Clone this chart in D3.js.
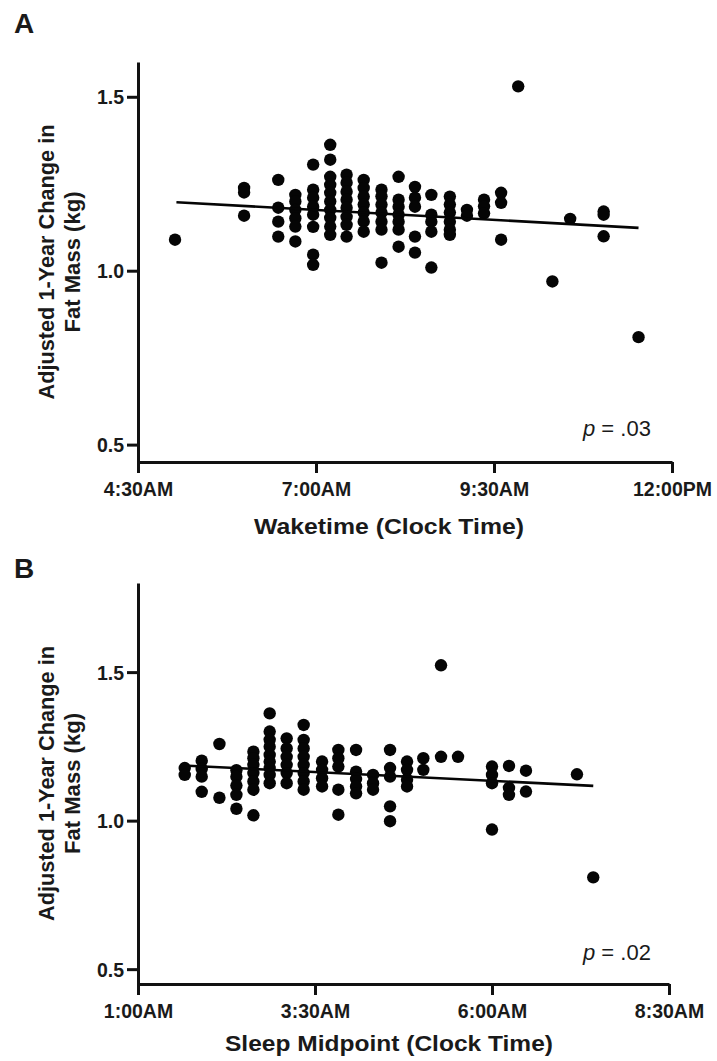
<!DOCTYPE html>
<html>
<head>
<meta charset="utf-8">
<script src="https://cdn.jsdelivr.net/npm/d3@7"></script>
<style>
  html, body { margin: 0; padding: 0; background: #fff; }
  svg { display: block; }
  text { font-family: "Liberation Sans", Arial, sans-serif; fill: #1a1a1a; }
</style>
</head>
<body>
<svg id="chart" width="717" height="1061"></svg>
<script>
// ---------- DATA ----------
// Panel A: Waketime (decimal clock hours) and adjusted 1-year change in fat mass (kg)
const wakeTimes = [5.02, 5.99, 6.47, 6.71, 6.96, 7.20, 7.43, 7.67, 7.92, 8.16, 8.39, 8.62, 8.88, 9.12, 9.36, 9.60, 9.84, 10.32, 10.57, 11.04, 11.53];
const wakeChange = [
  [1.089],
  [1.238, 1.225, 1.158],
  [1.261, 1.181, 1.141, 1.098],
  [1.218, 1.199, 1.175, 1.151, 1.127, 1.084],
  [1.305, 1.233, 1.210, 1.184, 1.161, 1.126, 1.046, 1.017],
  [1.362, 1.319, 1.270, 1.247, 1.224, 1.199, 1.175, 1.152, 1.127, 1.103],
  [1.276, 1.253, 1.227, 1.204, 1.181, 1.155, 1.132, 1.098],
  [1.261, 1.238, 1.213, 1.190, 1.167, 1.141, 1.112],
  [1.233, 1.214, 1.190, 1.167, 1.141, 1.118, 1.023],
  [1.270, 1.204, 1.184, 1.161, 1.141, 1.118, 1.069],
  [1.241, 1.210, 1.184, 1.098, 1.052],
  [1.218, 1.161, 1.141, 1.112, 1.009],
  [1.213, 1.190, 1.167, 1.141, 1.118, 1.103],
  [1.175, 1.158],
  [1.204, 1.185, 1.165],
  [1.224, 1.195, 1.089],
  [1.530],
  [0.969],
  [1.149],
  [1.170, 1.161, 1.099],
  [0.809]
];
const wakeFitX = [5.04, 11.53];
const wakeFitY = [1.197, 1.123];
const wakeTicks = [4.5, 7, 9.5, 12];
const wakeTickLabels = ["4:30AM", "7:00AM", "9:30AM", "12:00PM"];
const wakeP = ".03";

// Panel B: Sleep midpoint (decimal clock hours)
const midTimes = [1.66, 1.90, 2.15, 2.39, 2.63, 2.86, 3.10, 3.34, 3.60, 3.83, 4.08, 4.32, 4.56, 4.80, 5.03, 5.28, 5.52, 6.00, 6.24, 6.48, 7.20, 7.43];
const midChange = [
  [1.177, 1.154],
  [1.202, 1.174, 1.148, 1.097],
  [1.258, 1.077],
  [1.170, 1.148, 1.118, 1.087, 1.040],
  [1.232, 1.210, 1.188, 1.160, 1.132, 1.104, 1.018],
  [1.361, 1.300, 1.272, 1.249, 1.221, 1.199, 1.177, 1.154, 1.126],
  [1.277, 1.243, 1.215, 1.188, 1.160, 1.126],
  [1.322, 1.272, 1.243, 1.215, 1.188, 1.160, 1.132, 1.104],
  [1.199, 1.171, 1.143, 1.115],
  [1.238, 1.210, 1.182, 1.104, 1.020],
  [1.238, 1.165, 1.140, 1.115, 1.092],
  [1.154, 1.126, 1.104],
  [1.238, 1.177, 1.148, 1.048, 0.998],
  [1.199, 1.171, 1.138, 1.115],
  [1.210, 1.171],
  [1.523, 1.215],
  [1.215],
  [1.182, 1.154, 1.126, 0.970],
  [1.184, 1.110, 1.087],
  [1.168, 1.098],
  [1.156],
  [0.809]
];
const midFitX = [1.71, 7.43];
const midFitY = [1.185, 1.117];
const midTicks = [1, 3.5, 6, 8.5];
const midTickLabels = ["1:00AM", "3:30AM", "6:00AM", "8:30AM"];
const midP = ".02";

const yTicks = [0.5, 1.0, 1.5];
const yTitle = ["Adjusted 1-Year Change in", "Fat Mass (kg)"];

// ---------- DRAW ----------
const svg = d3.select("#chart");

function panel(cfg) {
  const x = d3.scaleLinear().domain(cfg.xDomain).range([cfg.left, cfg.right]);
  const y = d3.scaleLinear().domain(cfg.yDomain).range([cfg.bottom, cfg.top]);
  const g = svg.append("g");

  // panel letter
  g.append("text").attr("x", 14).attr("y", cfg.letterY)
    .attr("font-size", 28).attr("font-weight", "bold").text(cfg.letter);

  // y axis
  const yAxis = d3.axisLeft(y).tickValues(yTicks).tickFormat(d3.format(".1f"))
    .tickSize(11).tickSizeOuter(0).tickPadding(3);
  const ya = g.append("g").attr("transform", `translate(${cfg.left},0)`).call(yAxis);
  // x axis
  const labels = cfg.tickLabels;
  const xAxis = d3.axisBottom(x).tickValues(cfg.ticks)
    .tickFormat((d, i) => labels[i]).tickSize(11).tickSizeOuter(0).tickPadding(9);
  const xa = g.append("g").attr("transform", `translate(0,${cfg.bottom})`).call(xAxis);

  [ya, xa].forEach(a => {
    a.select(".domain").attr("stroke", "#111").attr("stroke-width", 3);
    a.selectAll(".tick line").attr("stroke", "#111").attr("stroke-width", 3);
    a.selectAll(".tick text").attr("font-size", 19.5).attr("font-weight", "bold")
      .attr("fill", "#2a2a2a")
      .attr("font-family", "'Liberation Sans', Arial, sans-serif");
  });
  ya.selectAll(".tick text").attr("dy", "0.36em");

  // y title (two lines, rotated)
  const cy = (cfg.top + cfg.bottom) / 2;
  [0, 1].forEach(i => {
    g.append("text")
      .attr("transform", `translate(${54 + i * 26},${cy}) rotate(-90)`)
      .attr("text-anchor", "middle").attr("font-size", 22).attr("font-weight", "bold")
      .attr("fill", "#2a2a2a")
      .attr("textLength", i === 0 ? 275 : 141).attr("lengthAdjust", "spacingAndGlyphs")
      .text(yTitle[i]);
  });

  // x title
  g.append("text").attr("x", 389).attr("y", cfg.xTitleY)
    .attr("text-anchor", "middle").attr("font-size", 21.5).attr("font-weight", "bold")
    .attr("fill", "#2a2a2a")
    .attr("textLength", cfg.xTitleLen).attr("lengthAdjust", "spacingAndGlyphs")
    .text(cfg.xTitle);

  // points
  const pts = [];
  cfg.times.forEach((t, i) => cfg.values[i].forEach(v => pts.push({ t, v })));
  g.append("g").selectAll("circle").data(pts).join("circle")
    .attr("cx", d => x(d.t)).attr("cy", d => y(d.v)).attr("r", 6.2).attr("fill", "#050505");

  // regression line
  const fit = cfg.fitX.map((fx, i) => [fx, cfg.fitY[i]]);
  g.append("path").datum(fit)
    .attr("d", d3.line().x(d => x(d[0])).y(d => y(d[1])))
    .attr("stroke", "#050505").attr("stroke-width", 2.6).attr("fill", "none");

  // p value
  const pt = g.append("text").attr("x", 583).attr("y", cfg.pY)
    .attr("font-size", 22).attr("fill", "#2a2a2a");
  pt.append("tspan").attr("font-style", "italic").text("p");
  pt.append("tspan").text(" = " + cfg.p);
}

panel({
  letter: "A", letterY: 33,
  xDomain: [4.5, 12], yDomain: [0.45, 1.6],
  left: 138, right: 672, top: 62, bottom: 462,
  ticks: wakeTicks, tickLabels: wakeTickLabels,
  times: wakeTimes, values: wakeChange,
  fitX: wakeFitX, fitY: wakeFitY,
  xTitle: "Waketime (Clock Time)", xTitleY: 534, xTitleLen: 270,
  p: wakeP, pY: 436
});

panel({
  letter: "B", letterY: 578,
  xDomain: [1, 8.5], yDomain: [0.45, 1.8],
  left: 138, right: 669, top: 583, bottom: 984,
  ticks: midTicks, tickLabels: midTickLabels,
  times: midTimes, values: midChange,
  fitX: midFitX, fitY: midFitY,
  xTitle: "Sleep Midpoint (Clock Time)", xTitleY: 1051, xTitleLen: 328,
  p: midP, pY: 960
});
</script>
</body>
</html>
